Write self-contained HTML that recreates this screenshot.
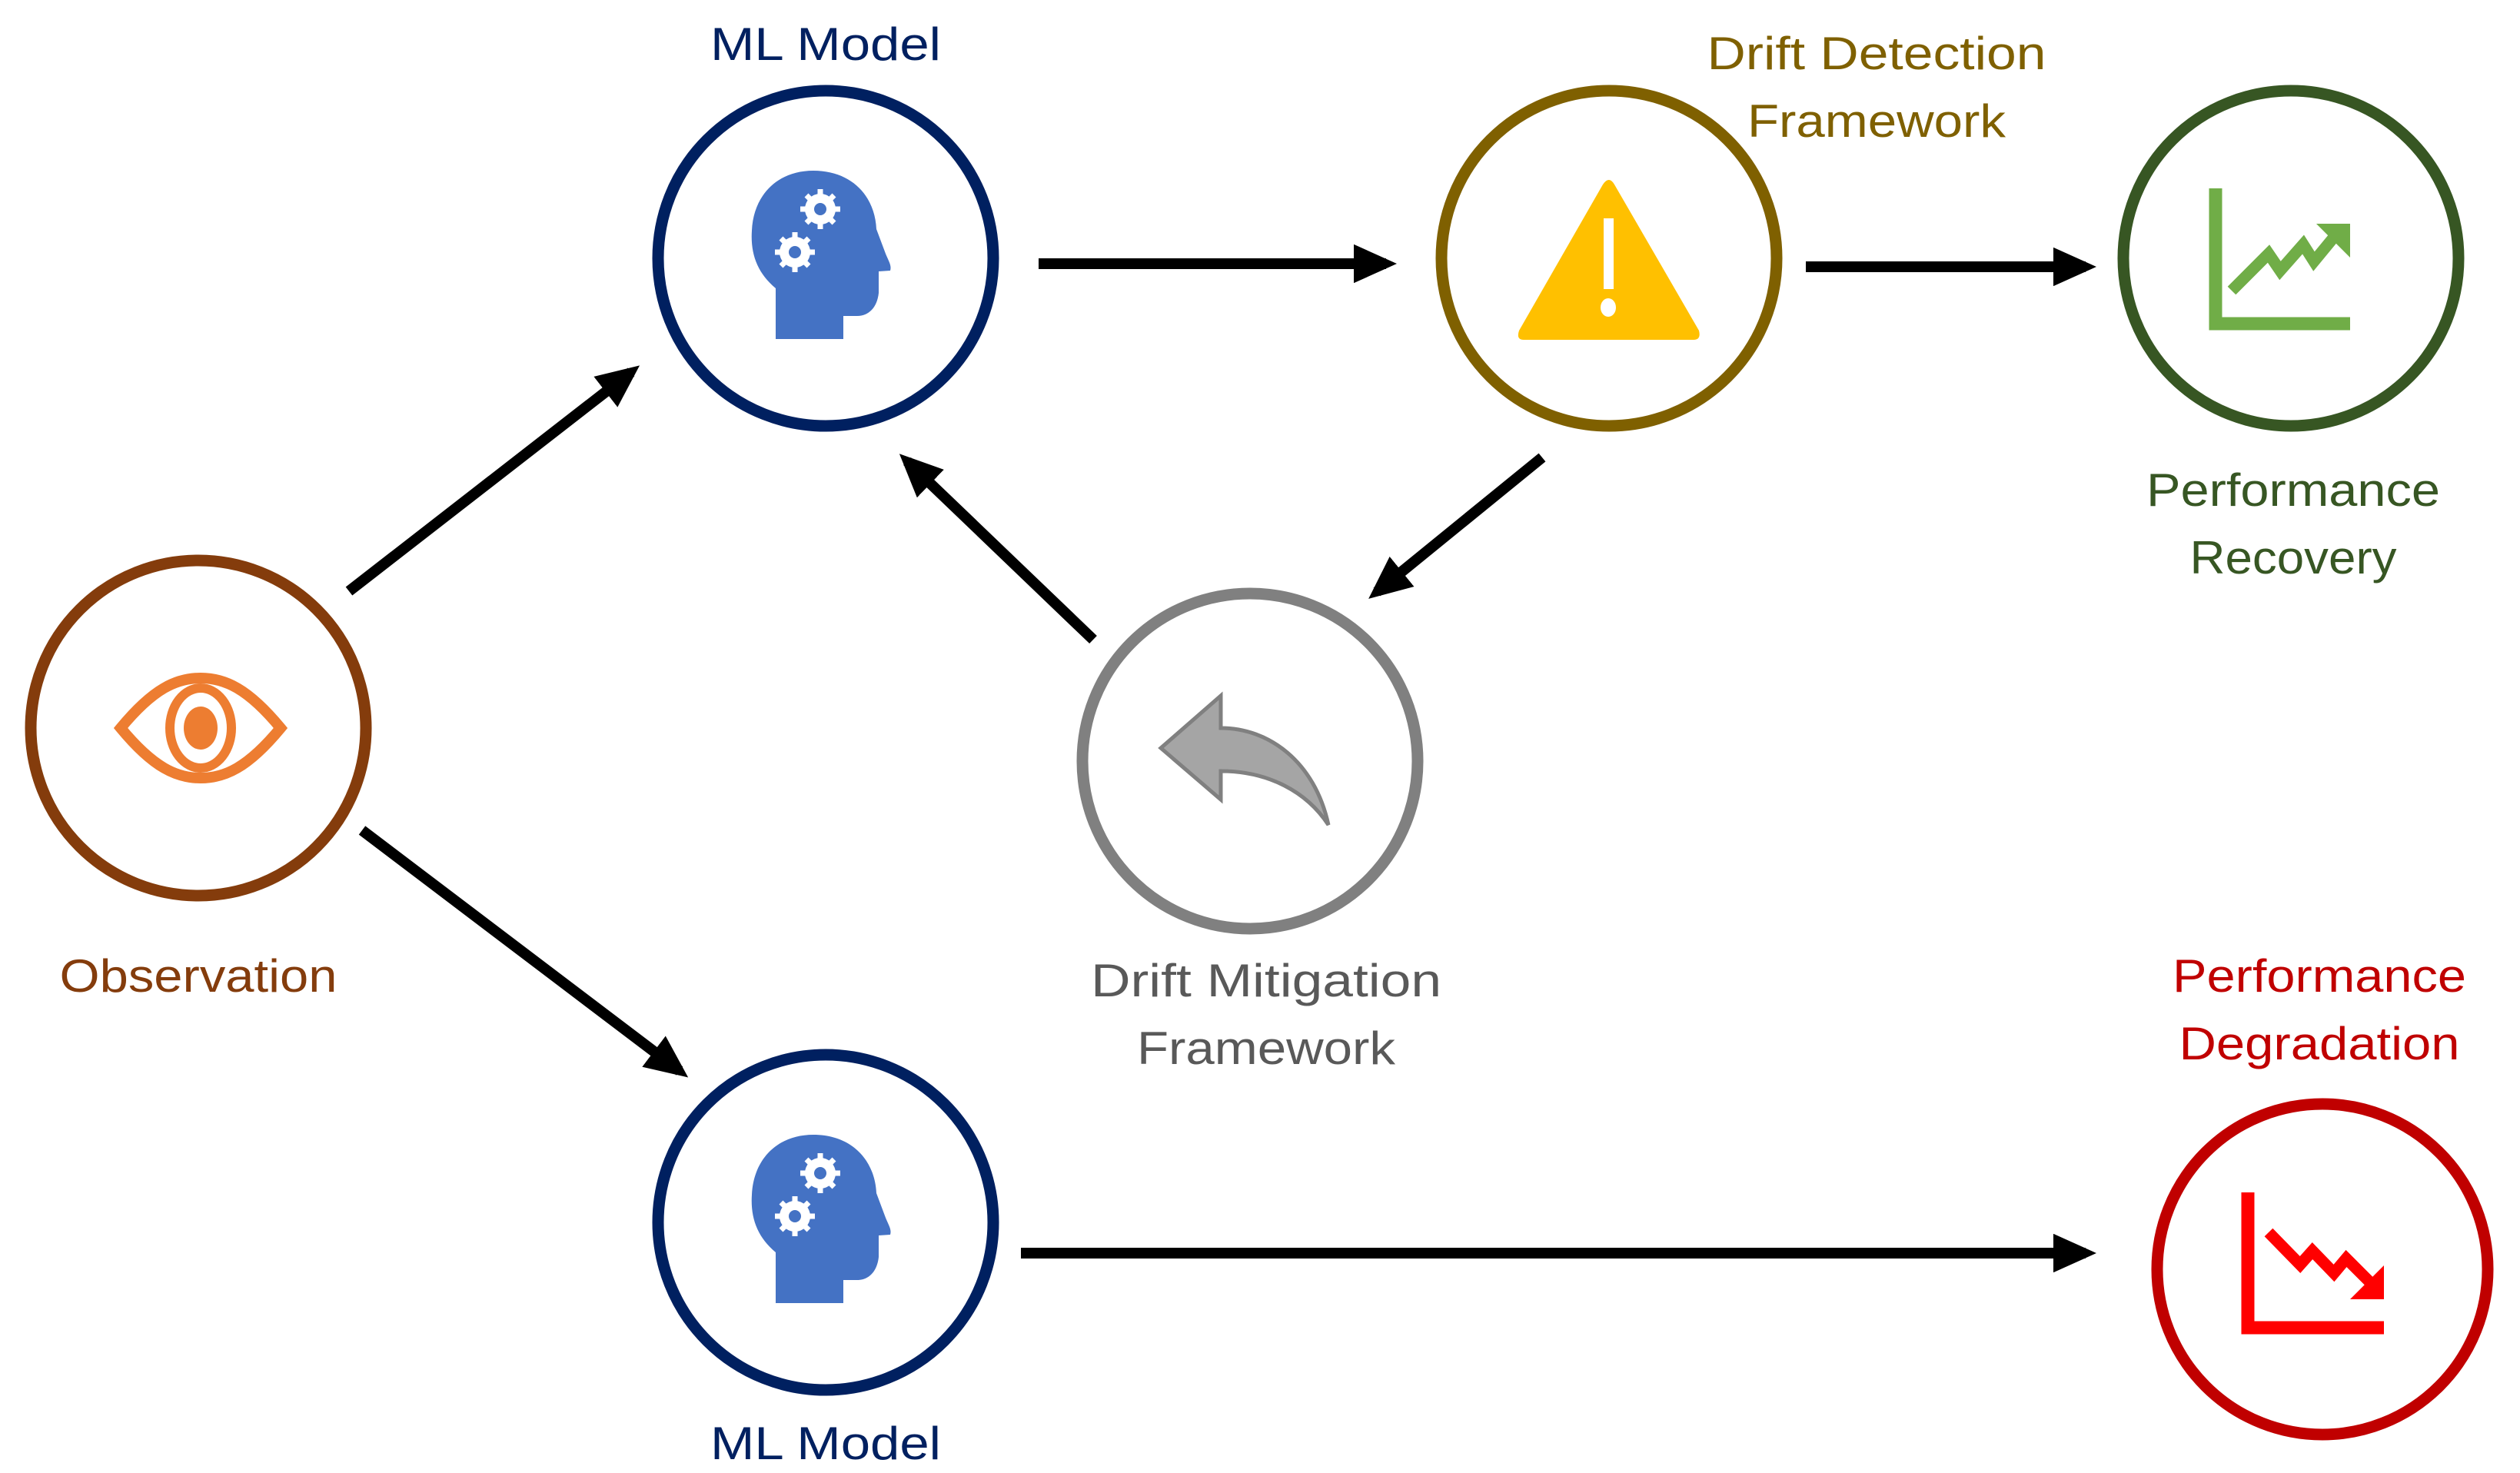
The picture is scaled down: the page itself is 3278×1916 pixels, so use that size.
<!DOCTYPE html>
<html><head><meta charset="utf-8"><style>
html,body{margin:0;padding:0;background:#fff;}
svg{display:block;}
text{font-family:"Liberation Sans",sans-serif;font-size:60px;text-anchor:middle;}
</style></head><body>
<svg width="3278" height="1916" viewBox="0 0 3278 1916" xmlns="http://www.w3.org/2000/svg">
<defs>
<marker id="ah" markerWidth="4" markerHeight="3.6" refX="3" refY="1.8" orient="auto" markerUnits="strokeWidth">
<path d="M0,0 L4,1.8 L0,3.6 z" fill="#000"/></marker>
<g id="head">
<path d="M1009,441 L1009,375 C985,355 976,330 978,300 C980,255 1010,222 1058,222 C1108,222 1138,255 1140,298 L1152,330 C1156,340 1160,345 1158,352 L1143,353 L1143,381 C1141,400 1130,411 1115,411 L1097,411 L1097,441 Z" fill="#4472C4"/>
<g fill="#fff"><circle cx="1067" cy="272" r="20"/><circle cx="1034" cy="328" r="20"/></g>
<g stroke="#fff" stroke-width="7"><path d="M1067,246v52M1041,272h52M1049,254l36,36M1085,254l-36,36"/><path d="M1034,302v52M1008,328h52M1016,310l36,36M1052,310l-36,36"/></g>
<g fill="#4472C4"><circle cx="1067" cy="272" r="8"/><circle cx="1034" cy="328" r="8"/></g>
</g>
</defs>
<g fill="none" stroke-width="15">
<circle cx="258" cy="947" r="218" stroke="#843C0C"/>
<circle cx="1074" cy="336" r="218" stroke="#002060"/>
<circle cx="2093" cy="336" r="218" stroke="#7F6000"/>
<circle cx="2980" cy="336" r="218" stroke="#375623"/>
<circle cx="1626" cy="990" r="218" stroke="#808080"/>
<circle cx="1074" cy="1590" r="218" stroke="#002060"/>
<circle cx="3021" cy="1651" r="215" stroke="#C00000"/>
</g>
<g stroke="#000" stroke-width="14" marker-end="url(#ah)">
<line x1="454" y1="769" x2="821" y2="484"/>
<line x1="1351" y1="343" x2="1803" y2="343"/>
<line x1="2349" y1="347" x2="2713" y2="347"/>
<line x1="2006" y1="595" x2="1791" y2="770"/>
<line x1="1422" y1="832" x2="1180" y2="600"/>
<line x1="471" y1="1080" x2="884" y2="1393"/>
<line x1="1328" y1="1630" x2="2713" y2="1630"/>
</g>
<use href="#head"/>
<use href="#head" transform="translate(0,1254)"/>
<g>
<path d="M157,947 C200,895 230,882 261,882 C292,882 322,895 365,947 C322,999 292,1012 261,1012 C230,1012 200,999 157,947 Z" fill="none" stroke="#ED7D31" stroke-width="14"/>
<ellipse cx="261" cy="947" rx="40" ry="52" fill="none" stroke="#ED7D31" stroke-width="12"/>
<ellipse cx="261" cy="947" rx="22" ry="28" fill="#ED7D31"/>
</g>
<path d="M2085,240 Q2093,228 2100,240 L2210,430 Q2213,442 2203,442 L1982,442 Q1972,442 1976,430 Z" fill="#FFC000"/>
<rect x="2086" y="284" width="13" height="92" fill="#fff"/>
<ellipse cx="2092" cy="400" rx="10" ry="12" fill="#fff"/>
<path d="M2882,245 V421 H3057" fill="none" stroke="#70AD47" stroke-width="17"/>
<polyline points="2903,378 2951,330 2966,352 2996,318 3010,340 3038,306" fill="none" stroke="#70AD47" stroke-width="15"/>
<polygon points="3057,291 3057,335 3013,291" fill="#70AD47"/>
<path d="M1510,973 L1588,905 L1588,947 C1650,947 1710,990 1728,1073 C1700,1030 1650,1003 1588,1003 L1588,1040 Z" fill="#A5A5A5" stroke="#808080" stroke-width="5"/>
<path d="M2924,1551 V1727 H3101" fill="none" stroke="#FF0000" stroke-width="17"/>
<polyline points="2951,1603 2992,1645 3008,1627 3036,1656 3052,1637 3083,1668" fill="none" stroke="#FF0000" stroke-width="15"/>
<polygon points="3101,1646 3101,1690 3057,1690" fill="#FF0000"/>
<text x="1074" y="78" fill="#002060" textLength="300" lengthAdjust="spacingAndGlyphs">ML Model</text>
<text x="2441" y="90" fill="#7F6000" textLength="441" lengthAdjust="spacingAndGlyphs">Drift Detection</text>
<text x="2441" y="178" fill="#7F6000" textLength="336" lengthAdjust="spacingAndGlyphs">Framework</text>
<text x="2983" y="658" fill="#375623" textLength="382" lengthAdjust="spacingAndGlyphs">Performance</text>
<text x="2983" y="746" fill="#375623" textLength="269" lengthAdjust="spacingAndGlyphs">Recovery</text>
<text x="258" y="1290" fill="#843C0C" textLength="361" lengthAdjust="spacingAndGlyphs">Observation</text>
<text x="1647" y="1296" fill="#595959" textLength="456" lengthAdjust="spacingAndGlyphs">Drift Mitigation</text>
<text x="1647" y="1384" fill="#595959" textLength="336" lengthAdjust="spacingAndGlyphs">Framework</text>
<text x="3017" y="1290" fill="#C00000" textLength="382" lengthAdjust="spacingAndGlyphs">Performance</text>
<text x="3017" y="1378" fill="#C00000" textLength="365" lengthAdjust="spacingAndGlyphs">Degradation</text>
<text x="1074" y="1898" fill="#002060" textLength="300" lengthAdjust="spacingAndGlyphs">ML Model</text>
</svg>
</body></html>
